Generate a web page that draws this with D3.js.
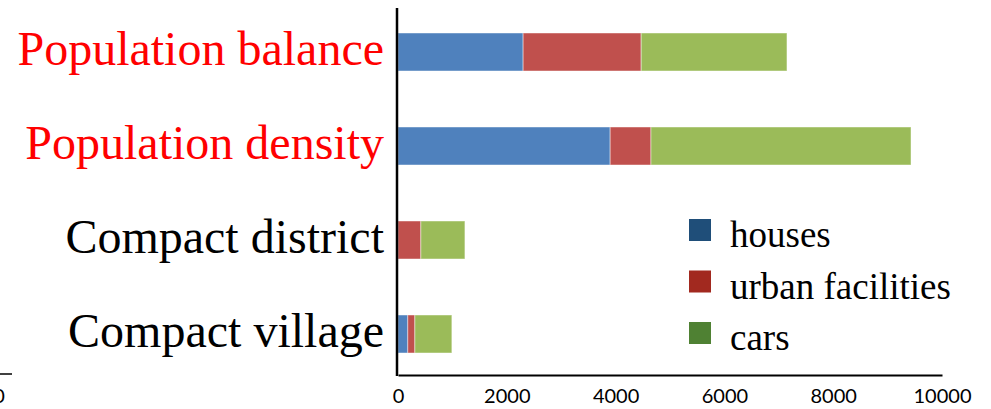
<!DOCTYPE html>
<html>
<head>
<meta charset="utf-8">
<script src="https://cdn.jsdelivr.net/npm/d3@7/dist/d3.min.js"></script>
<style>
  html, body { margin: 0; padding: 0; background: #fff; }
  svg { display: block; }
</style>
</head>
<body>
<svg id="chart" width="991" height="409"></svg>
<script>
// Categories, top to bottom
const categories = ["Population balance", "Population density", "Compact district", "Compact village"];
// Which category labels are highlighted in red
const highlighted = ["Population balance", "Population density"];
// Series values per category
const houses = [2300, 3900, 0, 180];
const urbanFacilities = [2170, 750, 420, 130];
const cars = [2680, 4780, 810, 680];
const seriesNames = ["houses", "urban facilities", "cars"];
const tickValues = [0, 2000, 4000, 6000, 8000, 10000];

const barColors = ["#4F81BD", "#C0504D", "#9BBB59"];
const legendColors = ["#1F4E79", "#A2291F", "#4F8133"];

const svg = d3.select("#chart");

const rows = categories.map((c, i) => ({
  category: c,
  houses: houses[i],
  "urban facilities": urbanFacilities[i],
  cars: cars[i]
}));

const stack = d3.stack().keys(seriesNames);
const stacked = stack(rows);

const x = d3.scaleLinear().domain([0, 10000]).range([398, 942]);
const y = d3.scaleBand().domain(categories).range([5, 381]).paddingInner(0.6).paddingOuter(0.3);

// Stacked bars
svg.append("g")
  .selectAll("g")
  .data(stacked)
  .join("g")
  .attr("fill", (d, i) => barColors[i])
  .selectAll("rect")
  .data(d => d.map(v => ({ v, cat: v.data.category })))
  .join("rect")
  .attr("x", d => x(d.v[0]))
  .attr("y", d => y(d.cat) + y.bandwidth() / 2 - 19)
  .attr("width", d => Math.max(0, x(d.v[1]) - x(d.v[0])))
  .attr("height", 38)
  .attr("stroke", "#ffffff")
  .attr("stroke-opacity", 0.45)
  .attr("stroke-width", 1);

// Category labels
svg.append("g")
  .selectAll("text")
  .data(categories)
  .join("text")
  .attr("x", 384)
  .attr("y", d => y(d) + y.bandwidth() / 2 + 13)
  .attr("text-anchor", "end")
  .attr("font-family", "'Liberation Serif', 'Times New Roman', serif")
  .attr("font-size", 48)
  .attr("fill", d => highlighted.includes(d) ? "#FF0000" : "#000")
  .text(d => d);

// Horizontal value axis
const xAxis = d3.axisBottom(x).tickValues(tickValues).tickSize(0).tickPadding(14)
  .tickFormat(d3.format("d"));
const gx = svg.append("g").attr("transform", "translate(0,375)").call(xAxis);
gx.select(".domain").attr("stroke", "#000").attr("stroke-width", 2);
gx.selectAll("text")
  .attr("font-family", "Lato, 'Open Sans', sans-serif")
  .attr("font-size", 20)
  .attr("fill", "#000");

// Vertical category axis line
svg.append("line")
  .attr("x1", 397).attr("x2", 397)
  .attr("y1", 8).attr("y2", 376)
  .attr("stroke", "#000").attr("stroke-width", 2.5);

// Edge of the neighbouring panel at the lower left
svg.append("line")
  .attr("x1", 0).attr("x2", 12)
  .attr("y1", 374).attr("y2", 374)
  .attr("stroke", "#000").attr("stroke-width", 1.5);
svg.append("text")
  .attr("x", -1).attr("y", 403)
  .attr("text-anchor", "middle")
  .attr("font-family", "Lato, 'Open Sans', sans-serif")
  .attr("font-size", 20)
  .text("0");

// Legend
const legend = svg.append("g")
  .selectAll("g")
  .data(seriesNames)
  .join("g")
  .attr("transform", (d, i) => `translate(689,${219 + i * 51.5})`);
legend.append("rect")
  .attr("width", 22).attr("height", 22)
  .attr("fill", (d, i) => legendColors[i]);
legend.append("text")
  .attr("x", 41).attr("y", 28)
  .attr("font-family", "'Liberation Serif', 'Times New Roman', serif")
  .attr("font-size", 37)
  .attr("fill", "#000")
  .text(d => d);
</script>
</body>
</html>
